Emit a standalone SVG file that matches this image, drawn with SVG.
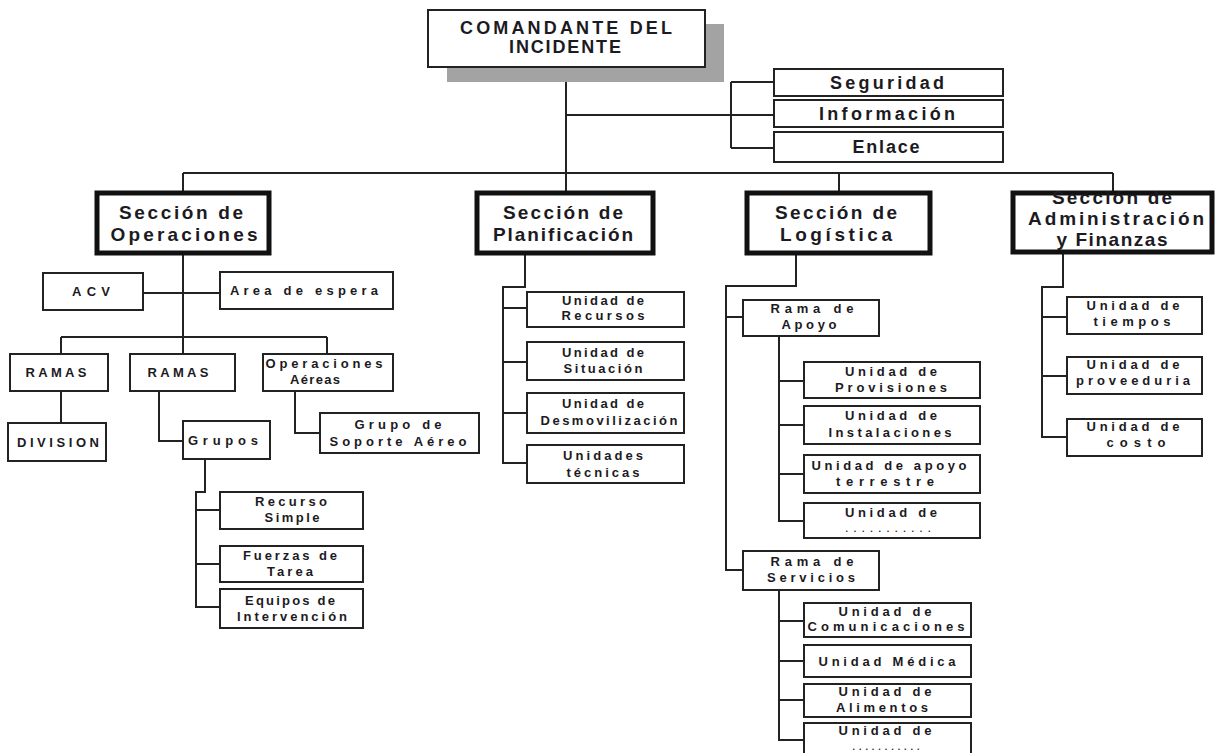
<svg xmlns="http://www.w3.org/2000/svg" width="1215" height="753" viewBox="0 0 1215 753">
<style>
text{font-family:"Liberation Sans",Arial,sans-serif;font-weight:bold;fill:#1c1a22;text-anchor:middle}
.sec{fill:#fff;stroke:#111;stroke-width:5}
.box{fill:#fff;stroke:#222;stroke-width:2}
.ln{stroke:#222;stroke-width:2;fill:none}
.ts{font-size:19px}
.tc{font-size:18px}
.tf{font-size:18px}
.tu{font-size:13px}
.td{font-size:9px}
</style>
<rect width="1215" height="753" fill="#fff"/>
<g id="connectors">
<path class="ln" d="M566 67 V193"/>
<path class="ln" d="M566 115 H774 M731 82 V148 M731 82 H774 M731 148 H774"/>
<path class="ln" d="M183 173 H1113 M183 173 V193 M839 173 V193 M1113 173 V193"/>
<path class="ln" d="M183 253 V337 M143 293 H220 M61 337 H327 M61 337 V354 M183 337 V354 M327 337 V354 M61 391 V423"/>
<path class="ln" d="M159 391 V441 H183 M295 391 V433 H320"/>
<path class="ln" d="M205 459 V492 H196 V607 H220 M196 510 H220 M196 564 H220"/>
<path class="ln" d="M525 253 V287 H503 V463 H527 M503 308 H527 M503 362 H527 M503 413 H527"/>
<path class="ln" d="M796 253 V286 H726 V570 H743 M726 317 H743"/>
<path class="ln" d="M779 336 V521 H804 M779 381 H804 M779 425 H804 M779 474 H804"/>
<path class="ln" d="M779 590 V740 H804 M779 621 H804 M779 661 H804 M779 700 H804"/>
<path class="ln" d="M1063 253 V287 H1042 V437 H1067 M1042 317 H1067 M1042 376 H1067"/>
</g>
<g id="comandante">
<rect x="447" y="24" width="277" height="58" fill="#a3a3a3"/>
<rect class="box" x="428" y="10" width="277" height="57"/>
<text class="tc" x="566" y="34" textLength="212">COMANDANTE DEL</text>
<text class="tc" x="565" y="53" textLength="112">INCIDENTE</text>
</g>
<g id="seguridad"><rect class="box" x="774" y="69" width="229" height="27"/><text class="tf" x="887" y="89" textLength="114">Seguridad</text></g>
<g id="informacion"><rect class="box" x="774" y="100" width="229" height="27"/><text class="tf" x="887" y="120" textLength="136">Información</text></g>
<g id="enlace"><rect class="box" x="774" y="132" width="229" height="30"/><text class="tf" x="886" y="153" textLength="67">Enlace</text></g>

<g id="sec-operaciones"><rect class="sec" x="97" y="193" width="172" height="60"/><text class="ts" x="181" y="219" textLength="124">Sección de</text><text class="ts" x="184" y="241" textLength="147">Operaciones</text></g>
<g id="sec-planificacion"><rect class="sec" x="477" y="193" width="176" height="60"/><text class="ts" x="563" y="219" textLength="120">Sección de</text><text class="ts" x="563" y="241" textLength="140">Planificación</text></g>
<g id="sec-logistica"><rect class="sec" x="747" y="193" width="183" height="60"/><text class="ts" x="836" y="219" textLength="122">Sección de</text><text class="ts" x="836" y="241" textLength="112">Logística</text></g>
<g id="sec-administracion"><rect class="sec" x="1013" y="193" width="199" height="59"/><text class="ts" x="1112" y="204" textLength="120">Sección de</text><text class="ts" x="1116" y="225" textLength="176">Administración</text><text class="ts" x="1112" y="246" textLength="111">y Finanzas</text></g>

<g id="acv"><rect class="box" x="43" y="273" width="100" height="37"/><text class="tu" x="91" y="296" textLength="38">ACV</text></g>
<g id="area-espera"><rect class="box" x="220" y="272" width="173" height="37"/><text class="tu" x="304" y="295" textLength="148">Area de espera</text></g>
<g id="ramas1"><rect class="box" x="10" y="354" width="98" height="37"/><text class="tu" x="56" y="377" textLength="61">RAMAS</text></g>
<g id="ramas2"><rect class="box" x="130" y="354" width="105" height="37"/><text class="tu" x="178" y="377" textLength="61">RAMAS</text></g>
<g id="op-aereas"><rect class="box" x="263" y="354" width="130" height="37"/><text class="tu" x="324" y="368" textLength="117">Operaciones</text><text class="tu" x="315" y="384" textLength="50">Aéreas</text></g>
<g id="division"><rect class="box" x="8" y="423" width="98" height="38"/><text class="tu" x="58" y="447" textLength="82">DIVISION</text></g>
<g id="grupos"><rect class="box" x="183" y="421" width="87" height="38"/><text class="tu" x="223" y="445" textLength="70">Grupos</text></g>
<g id="soporte-aereo"><rect class="box" x="320" y="413" width="159" height="40"/><text class="tu" x="398" y="429" textLength="87">Grupo de</text><text class="tu" x="398" y="446" textLength="137">Soporte  Aéreo</text></g>
<g id="recurso-simple"><rect class="box" x="220" y="492" width="143" height="37"/><text class="tu" x="291" y="506" textLength="72">Recurso</text><text class="tu" x="292" y="522" textLength="55">Simple</text></g>
<g id="fuerzas-tarea"><rect class="box" x="220" y="546" width="143" height="36"/><text class="tu" x="290" y="560" textLength="94">Fuerzas de</text><text class="tu" x="290" y="576" textLength="46">Tarea</text></g>
<g id="equipos"><rect class="box" x="220" y="589" width="143" height="39"/><text class="tu" x="290" y="605" textLength="90">Equipos de</text><text class="tu" x="292" y="621" textLength="110">Intervención</text></g>

<g id="u-recursos"><rect class="box" x="527" y="292" width="157" height="35"/><text class="tu" x="603" y="305" textLength="82">Unidad de</text><text class="tu" x="603" y="320" textLength="83">Recursos</text></g>
<g id="u-situacion"><rect class="box" x="527" y="342" width="157" height="38"/><text class="tu" x="603" y="357" textLength="82">Unidad de</text><text class="tu" x="603" y="373" textLength="79">Situación</text></g>
<g id="u-desmov"><rect class="box" x="527" y="393" width="157" height="40"/><text class="tu" x="603" y="408" textLength="82">Unidad de</text><text class="tu" x="609" y="425" textLength="137">Desmovilización</text></g>
<g id="u-tecnicas"><rect class="box" x="527" y="445" width="157" height="38"/><text class="tu" x="603" y="460" textLength="80">Unidades</text><text class="tu" x="603" y="477" textLength="73">técnicas</text></g>

<g id="rama-apoyo"><rect class="box" x="743" y="300" width="136" height="36"/><text class="tu" x="812" y="313" textLength="83">Rama de</text><text class="tu" x="809" y="329" textLength="55">Apoyo</text></g>
<g id="u-provisiones"><rect class="box" x="804" y="362" width="176" height="36"/><text class="tu" x="891" y="376" textLength="92">Unidad de</text><text class="tu" x="891" y="392" textLength="112">Provisiones</text></g>
<g id="u-instalaciones"><rect class="box" x="804" y="406" width="176" height="38"/><text class="tu" x="891" y="420" textLength="92">Unidad de</text><text class="tu" x="890" y="437" textLength="123">Instalaciones</text></g>
<g id="u-terrestre"><rect class="box" x="804" y="455" width="176" height="38"/><text class="tu" x="889" y="470" textLength="155">Unidad de apoyo</text><text class="tu" x="885" y="486" textLength="98">terrestre</text></g>
<g id="u-apoyo-otra"><rect class="box" x="804" y="503" width="176" height="35"/><text class="tu" x="891" y="517" textLength="92">Unidad de</text><text class="td" x="888" y="532" textLength="85">...........</text></g>
<g id="rama-servicios"><rect class="box" x="743" y="551" width="136" height="39"/><text class="tu" x="812" y="566" textLength="83">Rama de</text><text class="tu" x="811" y="582" textLength="88">Servicios</text></g>
<g id="u-comunicaciones"><rect class="box" x="804" y="603" width="167" height="34"/><text class="tu" x="885" y="616" textLength="93">Unidad de</text><text class="tu" x="886" y="631" textLength="157">Comunicaciones</text></g>
<g id="u-medica"><rect class="box" x="804" y="645" width="167" height="32"/><text class="tu" x="887" y="666" textLength="137">Unidad Médica</text></g>
<g id="u-alimentos"><rect class="box" x="804" y="684" width="167" height="33"/><text class="tu" x="885" y="696" textLength="93">Unidad de</text><text class="tu" x="882" y="712" textLength="92">Alimentos</text></g>
<g id="u-servicios-otra"><rect class="box" x="804" y="723" width="167" height="40"/><text class="tu" x="885" y="735" textLength="93">Unidad de</text><text class="td" x="886" y="750" textLength="67">...........</text></g>

<g id="u-tiempos"><rect class="box" x="1067" y="297" width="135" height="37"/><text class="tu" x="1133" y="310" textLength="93">Unidad de</text><text class="tu" x="1132" y="326" textLength="77">tiempos</text></g>
<g id="u-proveeduria"><rect class="box" x="1067" y="357" width="135" height="37"/><text class="tu" x="1133" y="369" textLength="93">Unidad de</text><text class="tu" x="1133" y="385" textLength="114">proveeduria</text></g>
<g id="u-costo"><rect class="box" x="1067" y="419" width="135" height="37"/><text class="tu" x="1133" y="431" textLength="93">Unidad de</text><text class="tu" x="1136" y="447" textLength="59">costo</text></g>
</svg>
